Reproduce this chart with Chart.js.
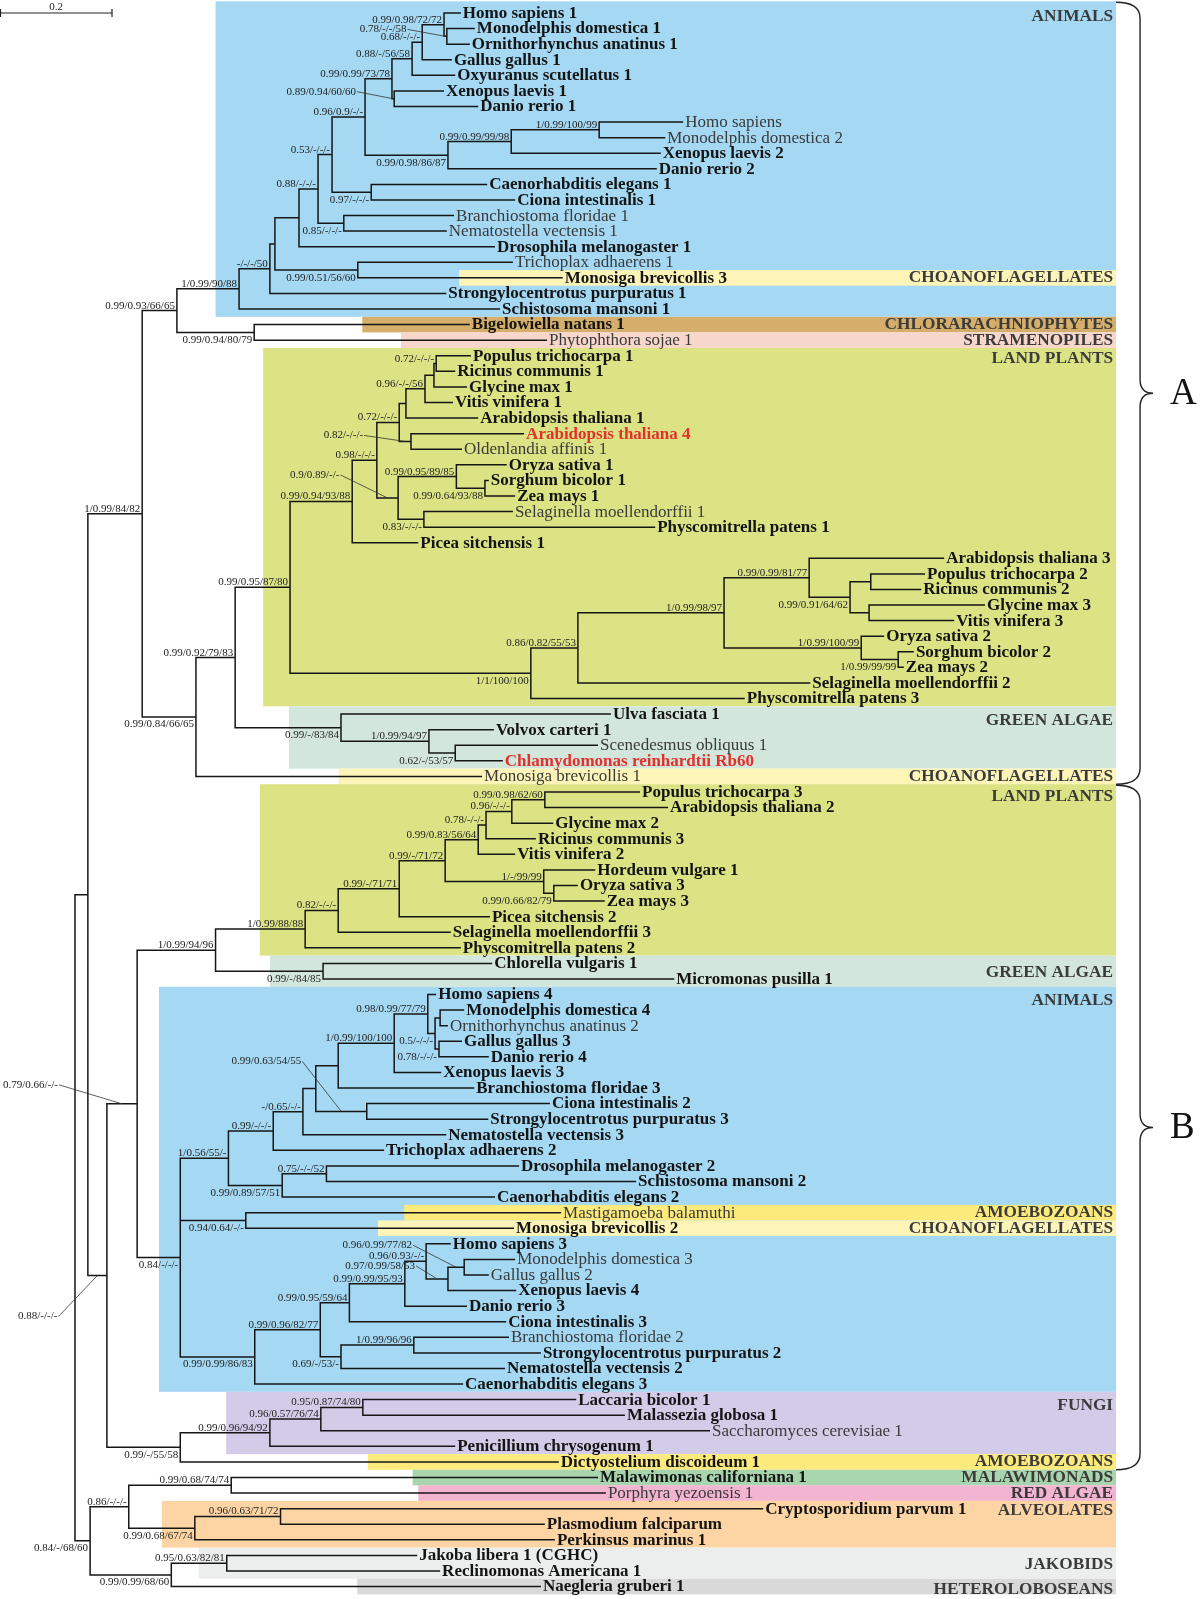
<!DOCTYPE html>
<html>
<head>
<meta charset="utf-8">
<title>Phylogeny</title>
<script src="https://cdn.jsdelivr.net/npm/chart.js@4.4.0/dist/chart.umd.min.js"></script>
<style>
  html, body { margin: 0; padding: 0; background: #fff; }
  #wrap { width: 1200px; height: 1599px; position: relative; }
</style>
</head>
<body>
<div id="wrap"><canvas id="tree"></canvas></div>
<script>
// ---- data: leaves (top to bottom), tip depth in substitutions/site from the root
const leafNames = [
  'Homo sapiens 1', 'Monodelphis domestica 1', 'Ornithorhynchus anatinus 1', 'Gallus gallus 1',
  'Oxyuranus scutellatus 1', 'Xenopus laevis 1', 'Danio rerio 1', 'Homo sapiens',
  'Monodelphis domestica 2', 'Xenopus laevis 2', 'Danio rerio 2', 'Caenorhabditis elegans 1',
  'Ciona intestinalis 1', 'Branchiostoma floridae 1', 'Nematostella vectensis 1', 'Drosophila melanogaster 1',
  'Trichoplax adhaerens 1', 'Monosiga brevicollis 3', 'Strongylocentrotus purpuratus 1', 'Schistosoma mansoni 1',
  'Bigelowiella natans 1', 'Phytophthora sojae 1', 'Populus trichocarpa 1', 'Ricinus communis 1',
  'Glycine max 1', 'Vitis vinifera 1', 'Arabidopsis thaliana 1', 'Arabidopsis thaliana 4',
  'Oldenlandia affinis 1', 'Oryza sativa 1', 'Sorghum bicolor 1', 'Zea mays 1',
  'Selaginella moellendorffii 1', 'Physcomitrella patens 1', 'Picea sitchensis 1', 'Arabidopsis thaliana 3',
  'Populus trichocarpa 2', 'Ricinus communis 2', 'Glycine max 3', 'Vitis vinifera 3',
  'Oryza sativa 2', 'Sorghum bicolor 2', 'Zea mays 2', 'Selaginella moellendorffii 2',
  'Physcomitrella patens 3', 'Ulva fasciata 1', 'Volvox carteri 1', 'Scenedesmus obliquus 1',
  'Chlamydomonas reinhardtii Rb60', 'Monosiga brevicollis 1', 'Populus trichocarpa 3', 'Arabidopsis thaliana 2',
  'Glycine max 2', 'Ricinus communis 3', 'Vitis vinifera 2', 'Hordeum vulgare 1',
  'Oryza sativa 3', 'Zea mays 3', 'Picea sitchensis 2', 'Selaginella moellendorffii 3',
  'Physcomitrella patens 2', 'Chlorella vulgaris 1', 'Micromonas pusilla 1', 'Homo sapiens 4',
  'Monodelphis domestica 4', 'Ornithorhynchus anatinus 2', 'Gallus gallus 3', 'Danio rerio 4',
  'Xenopus laevis 3', 'Branchiostoma floridae 3', 'Ciona intestinalis 2', 'Strongylocentrotus purpuratus 3',
  'Nematostella vectensis 3', 'Trichoplax adhaerens 2', 'Drosophila melanogaster 2', 'Schistosoma mansoni 2',
  'Caenorhabditis elegans 2', 'Mastigamoeba balamuthi', 'Monosiga brevicollis 2', 'Homo sapiens 3',
  'Monodelphis domestica 3', 'Gallus gallus 2', 'Xenopus laevis 4', 'Danio rerio 3',
  'Ciona intestinalis 3', 'Branchiostoma floridae 2', 'Strongylocentrotus purpuratus 2', 'Nematostella vectensis 2',
  'Caenorhabditis elegans 3', 'Laccaria bicolor 1', 'Malassezia globosa 1', 'Saccharomyces cerevisiae 1',
  'Penicillium chrysogenum 1', 'Dictyostelium discoideum 1', 'Malawimonas californiana 1', 'Porphyra yezoensis 1',
  'Cryptosporidium parvum 1', 'Plasmodium falciparum', 'Perkinsus marinus 1', 'Jakoba libera 1 (CGHC)',
  'Reclinomonas Americana 1', 'Naegleria gruberi 1'
];
const leafDepth = [
  0.689, 0.714, 0.705, 0.673, 0.679, 0.659, 0.720, 1.086, 1.054, 1.046,
  1.039, 0.736, 0.786, 0.677, 0.664, 0.750, 0.782, 0.871, 0.663, 0.759,
  0.705, 0.843, 0.707, 0.679, 0.700, 0.675, 0.720, 0.802, 0.691, 0.771,
  0.739, 0.786, 0.782, 1.036, 0.613, 1.552, 1.518, 1.511, 1.625, 1.570,
  1.445, 1.498, 1.480, 1.313, 1.196, 0.957, 0.748, 0.934, 0.764, 0.727,
  1.009, 1.059, 0.854, 0.823, 0.786, 0.929, 0.898, 0.946, 0.741, 0.671,
  0.689, 0.745, 1.070, 0.645, 0.695, 0.666, 0.691, 0.739, 0.654, 0.713,
  0.848, 0.738, 0.663, 0.552, 0.793, 1.002, 0.750, 0.868, 0.784, 0.671,
  0.786, 0.739, 0.788, 0.700, 0.770, 0.775, 0.832, 0.768, 0.693, 0.895,
  0.982, 1.134, 0.679, 0.864, 0.934, 0.948, 1.229, 0.839, 0.857, 0.611,
  0.652, 0.832
];

// ---- data: internal nodes (children: leaf number or node name), depth, support values
const nodeNames = [
  'mo1', 'a1', 'a2', 'a3', 'a4', 'a5', 'b1', 'b2', 'b3', 'a6', 'ce1', 'a53', 'bn1', 'a88', 'ad',
  'tm', 'at', 'as', 'aa', 'bp', 'ab',
  'pr1', 'prg1', 'prgv1', 'prgva1', 'ao1', 'eud1', 'sz1', 'osz1', 'sp1', 'gsp1', 'ang1', 'lp1',
  'pr2', 'gv3', 'eud3', 'eud2', 'sz2', 'osz2', 'ang2', 'lp2', 'lp3', 'lpA',
  'chl', 'vc', 'ga1', 'pg', 'pgm', 'A',
  'pa', 'pag', 'pagr', 'pagrv', 'oz', 'hoz', 'angB', 'spB', 'vpB', 'lpB', 'gaB', 'pB',
  'mo4', 'gd', 'mogd', 'h4', 'vx', 'vb', 'cs', 'vbcs', 'n3', 't2', 'ds', 'dsc', 'anB1', 'mm',
  'mg', 'mgx', 'hmgx', 'vd', 'vdc', 'bs2', 'bsn', 'anB2a', 'anB2', 'anB',
  'lm', 'lms', 'fun', 'fd', 'pAB', 'pABf', 'AB',
  'mp', 'cp', 'alv', 'mpa', 'jr', 'jrn', 'out', 'root'
];
const nodeKids = [
  [2, 3], [1, 'mo1'], ['a1', 4], ['a2', 5], [6, 7], ['a3', 'a4'], [8, 9], ['b1', 10], ['b2', 11],
  ['a5', 'b3'], [12, 13], ['a6', 'ce1'], [14, 15], ['a53', 'bn1'], ['a88', 16],
  [17, 18], ['ad', 'tm'], ['at', 19], ['as', 20], [21, 22], ['aa', 'bp'],
  [23, 24], ['pr1', 25], ['prg1', 26], ['prgv1', 27], [28, 29], ['prgva1', 'ao1'], [31, 32],
  [30, 'sz1'], [33, 34], ['osz1', 'sp1'], ['eud1', 'gsp1'], ['ang1', 35],
  [37, 38], [39, 40], ['pr2', 'gv3'], [36, 'eud3'], [42, 43], [41, 'sz2'], ['eud2', 'osz2'],
  ['ang2', 44], ['lp2', 45], ['lp1', 'lp3'],
  [48, 49], [47, 'chl'], [46, 'vc'], ['lpA', 'ga1'], ['pg', 50], ['ab', 'pgm'],
  [51, 52], ['pa', 53], ['pag', 54], ['pagr', 55], [57, 58], [56, 'oz'], ['pagrv', 'hoz'],
  ['angB', 59], ['spB', 60], ['vpB', 61], [62, 63], ['lpB', 'gaB'],
  [65, 66], [67, 68], ['mo4', 'gd'], [64, 'mogd'], ['h4', 69], ['vx', 70], [71, 72], ['vb', 'cs'],
  ['vbcs', 73], ['n3', 74], [75, 76], ['ds', 77], ['t2', 'dsc'], [78, 79],
  [81, 82], ['mg', 83], [80, 'mgx'], ['hmgx', 84], ['vd', 85], [86, 87], ['bs2', 88],
  ['vdc', 'bsn'], ['anB2a', 89], ['anB1', 'mm', 'anB2'],
  [90, 91], ['lm', 92], ['lms', 93], ['fun', 94], ['pB', 'anB'], ['pAB', 'fd'], ['A', 'pABf'],
  [95, 96], [97, 98], ['cp', 99], ['mp', 'alv'], [100, 101], ['jr', 102], ['mpa', 'jrn'], ['AB', 'out']
];
const nodeDepth = [
  0.664, 0.659, 0.620, 0.602, 0.570, 0.566, 0.936, 0.779, 0.666, 0.518, 0.529, 0.459, 0.480, 0.434, 0.400,
  0.505, 0.357, 0.348, 0.293, 0.320, 0.182,
  0.645, 0.641, 0.625, 0.591, 0.600, 0.579, 0.732, 0.681, 0.623, 0.577, 0.539, 0.495,
  1.421, 1.418, 1.384, 1.311, 1.470, 1.404, 1.159, 0.898, 0.814, 0.384,
  0.679, 0.632, 0.475, 0.286, 0.216, 0.120,
  0.839, 0.780, 0.734, 0.720, 0.855, 0.837, 0.661, 0.579, 0.470, 0.411, 0.443, 0.251,
  0.652, 0.650, 0.643, 0.630, 0.570, 0.470, 0.521, 0.430, 0.407, 0.354, 0.449, 0.370, 0.274, 0.305,
  0.695, 0.666, 0.627, 0.589, 0.490, 0.605, 0.475, 0.438, 0.321, 0.188,
  0.514, 0.439, 0.348, 0.188, 0.111, 0.057, 0.023,
  0.279, 0.367, 0.214, 0.096, 0.271, 0.172, 0.027, 0
];
const nodeSupport = [
  '0.78/-/-/58', '0.99/0.98/72/72', '0.68/-/-/-', '0.88/-/56/58', '0.89/0.94/60/60', '0.99/0.99/73/78',
  '1/0.99/100/99', '0.99/0.99/99/98', '0.99/0.98/86/87', '0.96/0.9/-/-', '0.97/-/-/-', '0.53/-/-/-',
  '0.85/-/-/-', '0.88/-/-/-', '',
  '0.99/0.51/56/60', '', '-/-/-/50', '1/0.99/90/88', '0.99/0.94/80/79', '0.99/0.93/66/65',
  '0.72/-/-/-', '', '0.96/-/-/56', '', '0.82/-/-/-', '0.72/-/-/-', '0.99/0.64/93/88',
  '0.99/0.95/89/85', '0.83/-/-/-', '0.9/0.89/-/-', '0.98/-/-/-', '0.99/0.94/93/88',
  '', '', '0.99/0.91/64/62', '0.99/0.99/81/77', '1/0.99/99/99', '1/0.99/100/99', '1/0.99/98/97',
  '0.86/0.82/55/53', '1/1/100/100', '0.99/0.95/87/80',
  '0.62/-/53/57', '1/0.99/94/97', '0.99/-/83/84', '0.99/0.92/79/83', '0.99/0.84/66/65', '1/0.99/84/82',
  '0.99/0.98/62/60', '0.96/-/-/-', '0.78/-/-/-', '0.99/0.83/56/64', '0.99/0.66/82/79', '1/-/99/99',
  '0.99/-/71/72', '0.99/-/71/71', '0.82/-/-/-', '1/0.99/88/88', '0.99/-/84/85', '1/0.99/94/96',
  '', '0.78/-/-/-', '0.5/-/-/-', '0.98/0.99/77/79', '1/0.99/100/100', '', '0.99/0.63/54/55', '',
  '-/0.65/-/-', '0.99/-/-/-', '0.75/-/-/52', '0.99/0.89/57/51', '1/0.56/55/-', '0.94/0.64/-/-',
  '0.96/0.99/77/82', '0.97/0.99/58/53', '0.96/0.93/-/-', '0.99/0.99/95/93', '0.99/0.95/59/64',
  '1/0.99/96/96', '0.69/-/53/-', '0.99/0.96/82/77', '0.99/0.99/86/83', '0.84/-/-/-',
  '0.95/0.87/74/80', '0.96/0.57/76/74', '0.99/0.96/94/92', '0.99/-/55/58', '0.79/0.66/-/-', '0.88/-/-/-', '',
  '0.99/0.68/74/74', '0.96/0.63/71/72', '0.99/0.68/67/74', '0.86/-/-/-', '0.95/0.63/82/81',
  '0.99/0.99/68/60', '0.84/-/68/60', ''
];

// ---- data: shaded groups (first and last leaf of each box) and the two major clades
const groupNames = [
  'ANIMALS', 'CHOANOFLAGELLATES', 'CHLORARACHNIOPHYTES', 'STRAMENOPILES', 'LAND PLANTS', 'GREEN ALGAE',
  'CHOANOFLAGELLATES', 'LAND PLANTS', 'GREEN ALGAE', 'ANIMALS', 'AMOEBOZOANS', 'CHOANOFLAGELLATES',
  'FUNGI', 'AMOEBOZOANS', 'MALAWIMONADS', 'RED ALGAE', 'ALVEOLATES', 'JAKOBIDS', 'HETEROLOBOSEANS'
];
const groupFirstLeaf = [1, 18, 21, 22, 23, 46, 50, 51, 62, 64, 78, 79, 90, 94, 95, 96, 97, 100, 102];
const groupLastLeaf = [20, 18, 21, 22, 45, 49, 50, 61, 63, 89, 78, 79, 93, 94, 95, 96, 99, 101, 102];
const cladeNames = ['A', 'B'];
const cladeFirstLeaf = [1, 51];
const cladeLastLeaf = [50, 94];
const scaleBarLength = 0.2;

// ---- layout / style (kept apart from the data)
const regularLeaves = [8, 9, 14, 15, 17, 22, 29, 33, 48, 50, 66, 78, 81, 82, 86, 92, 96];
const redLeaves = [28, 49];
const labelBelow = ['b3', 'ce1', 'bn1', 'tm', 'bp', 'sz1', 'sp1', 'eud3', 'sz2', 'lp3', 'chl', 'ga1', 'pgm',
  'oz', 'gaB', 'gd', 'mogd', 'dsc', 'mm', 'bsn', 'anB2', 'anB', 'fd', 'alv', 'jrn', 'out'];
const leaderOffset = {
  mo1: [-39, -7], a4: [-37, -7], ao1: [-42, -6], gsp1: [-48, -23], cs: [-40, -50],
  mg: [-44, -22], mgx: [-22, -13], pAB: [-64, -19], pABf: [-40, 41]
};
const boxLeft = [0.251, 0.686, 0.513, 0.582, 0.336, 0.382, 0.471, 0.330, 0.348, 0.150,
  0.588, 0.541, 0.270, 0.523, 0.603, 0.613, 0.155, 0.221, 0.504];
const boxRight = 1.859;
const groupTextRow = [1.2, 18, 21, 22, 23.15, 46.4, 50, 51.3, 62.6, 64.4, 78, 79, 90.4, 94, 95, 96, 97.1, 100.6, 102.2];
const groupColor = {
  'ANIMALS': '#a5d8f3', 'CHOANOFLAGELLATES': '#fdf4b8', 'CHLORARACHNIOPHYTES': '#d4ae6a',
  'STRAMENOPILES': '#f7d6cc', 'LAND PLANTS': '#dbe385', 'GREEN ALGAE': '#d3e6dc',
  'AMOEBOZOANS': '#fcea7c', 'FUNGI': '#d3cce9', 'MALAWIMONADS': '#a8d5ad', 'RED ALGAE': '#f2b4d1',
  'ALVEOLATES': '#fdd5a4', 'JAKOBIDS': '#eceeed', 'HETEROLOBOSEANS': '#d9d9d9'
};
const SERIF = '"Liberation Serif", "Times New Roman", serif';

// ---- tree geometry
const nodeIndex = {};
nodeNames.forEach((n, i) => { nodeIndex[n] = i; });
const parentOf = {};
nodeKids.forEach((kids, i) => kids.forEach(k => { if (typeof k === 'string') parentOf[k] = nodeNames[i]; }));

function depthOf(k) {
  return typeof k === 'number' ? leafDepth[k - 1] : nodeDepth[nodeIndex[k]];
}
const rowCache = {};
function rowOf(k) {
  if (typeof k === 'number') return k;
  if (rowCache[k] === undefined) {
    const kids = nodeKids[nodeIndex[k]];
    rowCache[k] = (rowOf(kids[0]) + rowOf(kids[kids.length - 1])) / 2;
  }
  return rowCache[k];
}

// every bracket: first child -> node -> last child, middle children as extra horizontals
const branchPoints = [];
nodeNames.forEach((n, i) => {
  const kids = nodeKids[i];
  const d = nodeDepth[i];
  const first = kids[0], last = kids[kids.length - 1];
  branchPoints.push({ x: depthOf(first), y: rowOf(first) });
  branchPoints.push({ x: d, y: rowOf(first) });
  branchPoints.push({ x: d, y: rowOf(last) });
  branchPoints.push({ x: depthOf(last), y: rowOf(last) });
  branchPoints.push({ x: null, y: null });
  kids.slice(1, -1).forEach(k => {
    branchPoints.push({ x: d, y: rowOf(k) });
    branchPoints.push({ x: depthOf(k), y: rowOf(k) });
    branchPoints.push({ x: null, y: null });
  });
});

const treeDecor = {
  id: 'treeDecor',
  beforeDatasetsDraw(chart) {
    const { ctx, scales: { x, y } } = chart;
    ctx.save();
    groupNames.forEach((g, i) => {
      const l = x.getPixelForValue(boxLeft[i]);
      const r = x.getPixelForValue(boxRight);
      const t = y.getPixelForValue(groupFirstLeaf[i] - (groupFirstLeaf[i] === 1 ? 0.75 : 0.5));
      const b = y.getPixelForValue(groupLastLeaf[i] + 0.5);
      ctx.fillStyle = groupColor[g];
      ctx.fillRect(l, t, r - l, b - t);
    });
    ctx.restore();
  },
  afterDatasetsDraw(chart) {
    const { ctx, scales: { x, y } } = chart;
    ctx.save();

    // leaf names
    ctx.textAlign = 'left';
    ctx.textBaseline = 'middle';
    leafNames.forEach((name, i) => {
      const n = i + 1;
      if (redLeaves.includes(n)) {
        ctx.font = 'bold 17px ' + SERIF; ctx.fillStyle = '#e2312b';
      } else if (regularLeaves.includes(n)) {
        ctx.font = '17px ' + SERIF; ctx.fillStyle = '#3a3a3a';
      } else {
        ctx.font = 'bold 17px ' + SERIF; ctx.fillStyle = '#141414';
      }
      ctx.fillText(name, x.getPixelForValue(leafDepth[i]) + 2, y.getPixelForValue(n) + 0.5);
    });

    // support values
    ctx.font = '11px ' + SERIF;
    ctx.fillStyle = '#222';
    ctx.strokeStyle = '#333';
    ctx.lineWidth = 0.8;
    nodeNames.forEach((n, i) => {
      const s = nodeSupport[i];
      if (!s) return;
      const nx = x.getPixelForValue(nodeDepth[i]);
      const ny = y.getPixelForValue(rowOf(n));
      if (leaderOffset[n]) {
        const px = x.getPixelForValue(depthOf(parentOf[n]));
        const tx = (px + nx) / 2;
        const [dx, dy] = leaderOffset[n];
        ctx.textAlign = 'right';
        ctx.textBaseline = 'middle';
        ctx.fillText(s, tx + dx, ny + dy);
        ctx.beginPath();
        ctx.moveTo(tx + dx + 1, ny + dy);
        ctx.lineTo(tx, ny);
        ctx.stroke();
      } else {
        ctx.textAlign = 'right';
        ctx.textBaseline = 'alphabetic';
        ctx.fillText(s, nx - 2, labelBelow.includes(n) ? ny + 10.5 : ny - 2);
      }
    });

    // group titles
    ctx.font = 'bold 17.3px ' + SERIF;
    ctx.fillStyle = '#3b3b3b';
    ctx.textAlign = 'right';
    ctx.textBaseline = 'middle';
    groupNames.forEach((g, i) => {
      ctx.fillText(g, x.getPixelForValue(boxRight) - 3, y.getPixelForValue(groupTextRow[i]));
    });

    // clade braces
    const bx0 = x.getPixelForValue(boxRight);
    const bx1 = bx0 + 24;
    ctx.strokeStyle = '#222';
    ctx.lineWidth = 1.4;
    cladeNames.forEach((c, i) => {
      const top = y.getPixelForValue(cladeFirstLeaf[i] - 0.5) + (i === 0 ? -3 : 1);
      const bot = y.getPixelForValue(cladeLastLeaf[i] + 0.5);
      const mid = (top + bot) / 2;
      ctx.beginPath();
      ctx.moveTo(bx0, top);
      ctx.quadraticCurveTo(bx1, top, bx1, top + 16);
      ctx.lineTo(bx1, mid - 14);
      ctx.quadraticCurveTo(bx1, mid, bx1 + 13, mid);
      ctx.quadraticCurveTo(bx1, mid, bx1, mid + 14);
      ctx.lineTo(bx1, bot - 16);
      ctx.quadraticCurveTo(bx1, bot, bx0, bot);
      ctx.stroke();
      ctx.font = '37px ' + SERIF;
      ctx.fillStyle = '#111';
      ctx.textAlign = 'left';
      ctx.textBaseline = 'middle';
      ctx.fillText(c, bx1 + 30, mid + 1);
    });

    // scale bar
    const sx0 = x.getPixelForValue(x.min);
    const sx1 = x.getPixelForValue(x.min + scaleBarLength);
    const sy = y.getPixelForValue(1);
    ctx.strokeStyle = '#222';
    ctx.lineWidth = 1.2;
    ctx.beginPath();
    ctx.moveTo(sx0 + 0.5, sy); ctx.lineTo(sx1, sy);
    ctx.moveTo(sx0 + 0.5, sy - 4); ctx.lineTo(sx0 + 0.5, sy + 4);
    ctx.moveTo(sx1, sy - 4); ctx.lineTo(sx1, sy + 4);
    ctx.stroke();
    ctx.font = '11px ' + SERIF;
    ctx.fillStyle = '#222';
    ctx.textAlign = 'center';
    ctx.textBaseline = 'alphabetic';
    ctx.fillText(String(scaleBarLength), (sx0 + sx1) / 2, sy - 3);

    ctx.restore();
  }
};

new Chart(document.getElementById('tree'), {
  type: 'line',
  data: {
    datasets: [{
      data: branchPoints,
      borderColor: '#161616',
      borderWidth: 1.5,
      pointRadius: 0,
      spanGaps: false,
      tension: 0,
      fill: false
    }]
  },
  options: {
    responsive: true,
    maintainAspectRatio: false,
    animation: false,
    devicePixelRatio: 1,
    events: [],
    layout: { padding: 0 },
    plugins: { legend: { display: false }, tooltip: { enabled: false } },
    scales: {
      x: { type: 'linear', display: false, min: -0.1339, max: 2.0089 },
      y: { type: 'linear', display: false, min: 0.1656, max: 102.797, reverse: true }
    }
  },
  plugins: [treeDecor]
});
</script>
</body>
</html>
